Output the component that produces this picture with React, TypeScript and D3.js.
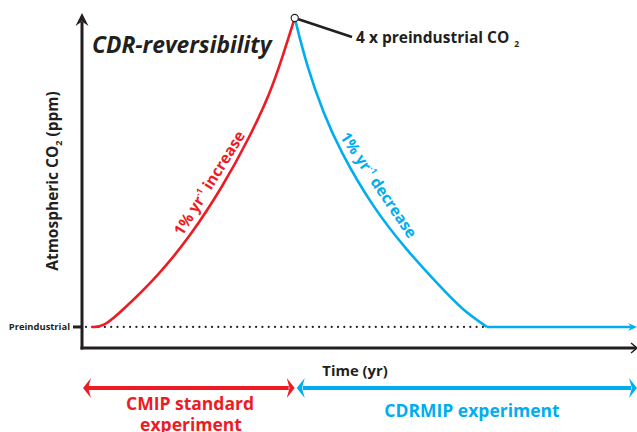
import React from "react";
import * as d3 from "d3";

// values (ppm, years since ramp start)
const preindustrial = 284;
const peakCO2 = 1136;
const increaseYears = [-9, 0, 14, 39, 63, 87, 107, 122, 131, 140];
const increaseCO2 = [284, 284, 331, 422, 532, 670, 808, 929, 1028, 1136];
const decreaseYears = [140, 149, 161, 173, 197, 222, 247, 263, 281];
const decreaseCO2 = [1136, 1001, 874, 772, 615, 496, 394, 331, 284];
const holdYears = [281, 391];
const holdCO2 = [284, 284];
const phaseLabels = ["CMIP standard", "experiment", "CDRMIP experiment"];

const W = 637;
const H = 432;
const RED = "#ed1c24";
const BLUE = "#00aeef";
const INK = "#231f20";
const FONT = "'Open Sans', sans-serif";

const App = () => {
  const x = d3.scaleLinear().domain([-16, 391]).range([82, 637]);
  const y = d3.scaleLinear().domain([226, 1136]).range([348, 18]);

  const line = d3
    .line<[number, number]>()
    .x((d) => x(d[0]))
    .y((d) => y(d[1]))
    .curve(d3.curveBasis);
  const straight = d3
    .line<[number, number]>()
    .x((d) => x(d[0]))
    .y((d) => y(d[1]));

  const upPts = increaseYears.map((t, i) => [t, increaseCO2[i]] as [number, number]);
  const downPts = decreaseYears.map((t, i) => [t, decreaseCO2[i]] as [number, number]);
  const holdPts = holdYears.map((t, i) => [t, holdCO2[i]] as [number, number]);

  const x0 = x(-16);
  const y0 = y(226);
  const yPre = y(preindustrial);
  const px = x(140);
  const py = y(peakCO2);
  const xEnd = x(holdYears[1]);
  const xBlueEnd = x(decreaseYears[decreaseYears.length - 1]);
  const arrowY = 388;

  // slim concave arrowhead pointing in +x at origin
  const head = (len: number, half: number) =>
    `M0,0 L${-len},${-half} L${-len * 0.65},0 L${-len},${half} Z`;

  return (
    <svg
      width={W}
      height={H}
      style={{ position: "absolute", left: 0, top: 0, background: "#fff" }}
      fontFamily={FONT}
    >
      {/* dotted preindustrial reference */}
      <line
        x1={x0 + 4}
        x2={xBlueEnd - 3}
        y1={yPre}
        y2={yPre}
        stroke={INK}
        strokeWidth={2.2}
        strokeLinecap="round"
        strokeDasharray="0 6.3"
      />

      {/* axes */}
      <line x1={x0} x2={x0} y1={y0 + 1.5} y2={22} stroke={INK} strokeWidth={3} />
      <path d={head(13, 6.5)} transform={`translate(${x0},13) rotate(-90)`} fill={INK} />
      <line x1={x0 - 1.5} x2={W - 1} y1={y0} y2={y0} stroke={INK} strokeWidth={3} />
      <path
        d={`M${W - 6},${y0 - 5} L${W},${y0} L${W - 6},${y0 + 5}`}
        fill="none"
        stroke={INK}
        strokeWidth={1.5}
      />
      <line x1={x0 - 9} x2={x0} y1={yPre} y2={yPre} stroke={INK} strokeWidth={3} />
      <text x={70} y={yPre + 3.5} textAnchor="end" fontSize={9.4} fontWeight={700} fill={INK}>
        Preindustrial
      </text>

      {/* CO2 pathway */}
      <path d={line(upPts) ?? ""} fill="none" stroke={RED} strokeWidth={2.6} />
      <path d={line(downPts) ?? ""} fill="none" stroke={BLUE} strokeWidth={2.6} />
      <path d={straight([[holdPts[0][0], holdPts[0][1]], [holdPts[1][0] - 4, holdPts[1][1]]]) ?? ""} fill="none" stroke={BLUE} strokeWidth={2.6} />
      <path d={head(9, 4)} transform={`translate(${xEnd},${yPre})`} fill={BLUE} />

      {/* peak annotation */}
      <line x1={px} y1={py} x2={352} y2={37} stroke={INK} strokeWidth={2.6} />
      <circle cx={px} cy={py} r={3.6} fill="#fff" stroke={INK} strokeWidth={1.1} />
      <text x={356} y={43} fontSize={15.5} fontWeight={700} fill={INK}>
        4 x preindustrial CO<tspan fontSize={8.5} dx={5} dy={4}>2</tspan>
      </text>

      {/* title */}
      <text x={92} y={53} fontSize={22.8} fontWeight={700} fontStyle="italic" fill={INK}>
        CDR-reversibility
      </text>

      {/* curve labels */}
      <text
        transform="translate(214,186) rotate(-58)"
        textAnchor="middle"
        fontSize={15.5}
        fontWeight={700}
        fill={RED}
      >
        1% yr<tspan fontSize={8.5} dy={-6.5}>-1</tspan>
        <tspan dy={6.5}> increase</tspan>
      </text>
      <text
        transform="translate(374,188) rotate(56)"
        textAnchor="middle"
        fontSize={15.5}
        fontWeight={700}
        fill={BLUE}
      >
        1% yr<tspan fontSize={8.5} dy={-6.5}>-1</tspan>
        <tspan dy={6.5}> decrease</tspan>
      </text>

      {/* axis titles */}
      <text
        transform="translate(58,181) rotate(-90)"
        textAnchor="middle"
        fontSize={15.5}
        fontWeight={700}
        fill={INK}
      >
        Atmospheric CO<tspan fontSize={9} dy={4}>2</tspan>
        <tspan dy={-4}> (ppm)</tspan>
      </text>
      <text x={355} y={376} textAnchor="middle" fontSize={14.8} fontWeight={700} fill={INK}>
        Time (yr)
      </text>

      {/* experiment phases */}
      <line x1={x0 + 6} x2={px - 6} y1={arrowY} y2={arrowY} stroke={RED} strokeWidth={4} />
      <path d={head(8, 10)} transform={`translate(${x0 + 1},${arrowY}) rotate(180)`} fill={RED} />
      <path d={head(8, 10)} transform={`translate(${px},${arrowY})`} fill={RED} />
      <line x1={px + 8} x2={W - 6} y1={arrowY} y2={arrowY} stroke={BLUE} strokeWidth={4} />
      <path d={head(8, 10)} transform={`translate(${px + 2},${arrowY}) rotate(180)`} fill={BLUE} />
      <path d={head(8, 10)} transform={`translate(${W},${arrowY})`} fill={BLUE} />

      <text x={190} y={410} textAnchor="middle" fontSize={17.5} fontWeight={700} fill={RED}>
        {phaseLabels[0]}
      </text>
      <text x={191} y={431} textAnchor="middle" fontSize={17.5} fontWeight={700} fill={RED}>
        {phaseLabels[1]}
      </text>
      <text x={472} y={417} textAnchor="middle" fontSize={17.5} fontWeight={700} fill={BLUE}>
        {phaseLabels[2]}
      </text>
    </svg>
  );
};

export default App;
